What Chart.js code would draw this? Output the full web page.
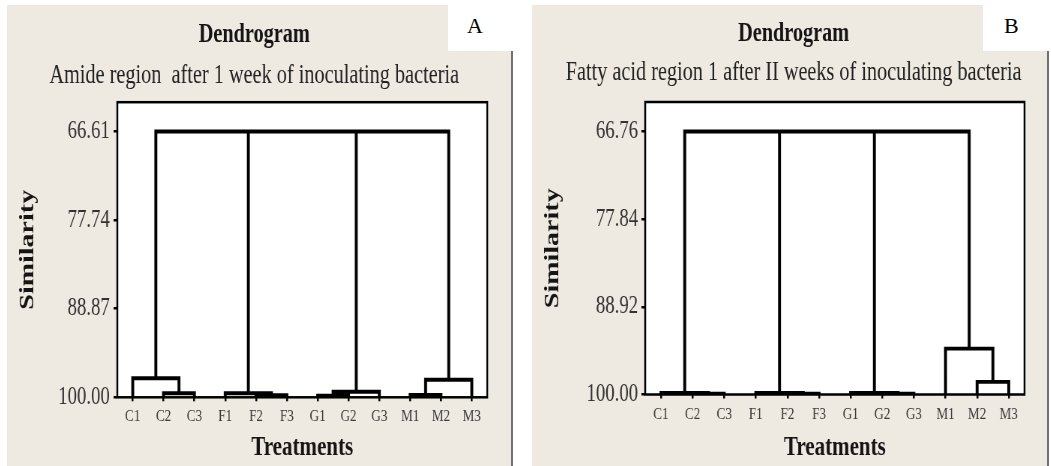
<!DOCTYPE html>
<html>
<head>
<meta charset="utf-8">
<script src="https://cdn.jsdelivr.net/npm/chart.js@4.4.1/dist/chart.umd.min.js"></script>
<style>
  body { margin: 0; width: 1051px; height: 466px; background: #fff; position: relative; overflow: hidden; }
  .panel { position: absolute; top: 5px; height: 461px; }
  .tag { position: absolute; top: 5px; width: 64px; height: 46px; box-sizing: border-box; background: #fff;
         font-family: "Liberation Serif", serif; font-size: 22px; line-height: 42px; color: #000; }
  .edge { position: absolute; top: 51px; width: 2px; height: 415px; background: #707070; }
</style>
</head>
<body>
<div class="panel" style="left:7px"><canvas id="chartA" width="673" height="461" style="width:505px;height:461px"></canvas></div>
<div class="panel" style="left:532px"><canvas id="chartB" width="687" height="461" style="width:515px;height:461px"></canvas></div>
<div class="tag" style="left:448px;padding-left:19px">A</div>
<div class="edge" style="left:511px"></div>
<div class="tag" style="left:983px;padding-left:21px">B</div>
<div class="edge" style="left:1047px"></div>
<script>
// the source figure is squashed sideways, so each canvas is drawn wider
// than it is shown (css width = canvas width * 0.75)

const treatments = ["C1", "C2", "C3", "F1", "F2", "F3", "G1", "G2", "G3", "M1", "M2", "M3"];

// merges: [cluster, cluster, similarity]
// clusters 0-11 are the treatments, 12 and up are the merges in this order
const mergesA = [
  [1, 2, 99.5],    // C2 + C3
  [0, 12, 97.6],   // C1
  [4, 5, 99.75],   // F2 + F3
  [3, 14, 99.5],   // F1
  [6, 7, 99.8],    // G1 + G2
  [16, 8, 99.3],   // G3
  [9, 10, 99.7],   // M1 + M2
  [18, 11, 97.8],  // M3
  [13, 15, 66.61],
  [17, 19, 66.61],
  [20, 21, 66.61],
];
const yTicksA = [66.61, 77.74, 88.87, 100.0];

const mergesB = [
  [1, 2, 99.9],
  [0, 12, 99.8],
  [4, 5, 99.9],
  [3, 14, 99.8],
  [7, 8, 99.9],
  [6, 16, 99.8],
  [10, 11, 98.4],  // M2 + M3
  [9, 18, 94.2],   // M1
  [13, 15, 66.76],
  [17, 19, 66.76],
  [20, 21, 66.76],
];
const yTicksB = [66.76, 77.84, 88.92, 100.0];

const serif = "'Liberation Serif', 'Times New Roman', serif";

// turn the merge list into the usual U shaped links
function dendrogram(merges) {
  const x = treatments.map((_, i) => i + 1);
  const h = treatments.map(() => 100);
  const pts = [];
  for (const [a, b, s] of merges) {
    pts.push({ x: x[a], y: h[a] }, { x: x[a], y: s }, { x: x[b], y: s }, { x: x[b], y: h[b] });
    pts.push({ x: x[b], y: null });
    x.push((x[a] + x[b]) / 2);
    h.push(s);
  }
  return pts;
}

const panelPaint = {
  id: "panelPaint",
  beforeDraw(chart) {
    const { ctx, chartArea: a } = chart;
    ctx.save();
    ctx.fillStyle = "#eeeae1";
    ctx.fillRect(0, 0, chart.width, chart.height);
    ctx.fillStyle = "#fff";
    ctx.fillRect(a.left, a.top, a.right - a.left, a.bottom - a.top);
    ctx.restore();
  },
  afterDatasetsDraw(chart) {
    const { ctx, chartArea: a } = chart;
    ctx.save();
    ctx.strokeStyle = "#000";
    ctx.lineWidth = 2.5;
    ctx.strokeRect(a.left, a.top, a.right - a.left, a.bottom - a.top);
    ctx.restore();
  },
};

function build(id, subtitle, merges, yTicks, L) {
  return new Chart(document.getElementById(id), {
    type: "line",
    data: {
      datasets: [{
        data: dendrogram(merges),
        borderColor: "#000",
        borderWidth: 3.9,
        borderJoinStyle: "miter",
        pointRadius: 0,
        tension: 0,
        spanGaps: false,
      }],
    },
    options: {
      responsive: false,
      animation: false,
      devicePixelRatio: 1,
      layout: { padding: { left: L.padLeft, right: L.padRight, top: 0, bottom: 0 } },
      plugins: {
        legend: { display: false },
        tooltip: { enabled: false },
        title: {
          display: true,
          text: "Dendrogram",
          color: "#151515",
          font: { family: serif, size: 27, weight: "bold", lineHeight: 1.2 },
          padding: L.titlePad,
        },
        subtitle: {
          display: true,
          text: subtitle,
          color: "#222",
          font: { family: serif, size: 27, weight: "normal", lineHeight: 1.2 },
          padding: L.subPad,
        },
      },
      scales: {
        x: {
          type: "linear",
          min: 0.5,
          max: 12.5,
          bounds: "data",
          afterBuildTicks: (s) => {
            s.ticks = treatments.map((_, i) => ({ value: i + 1 }));
          },
          afterFit: (s) => {
            s.height = L.xAxisHeight;
          },
          ticks: {
            autoSkip: false,
            maxRotation: 0,
            padding: 5,
            color: "#3c3c3c",
            font: { family: serif, size: 17.5 },
            callback: (v) => treatments[v - 1],
          },
          grid: { drawOnChartArea: false, drawTicks: true, tickLength: 4, color: "#000", lineWidth: 2.5 },
          border: { display: false },
          title: {
            display: true,
            text: "Treatments",
            color: "#151515",
            font: { family: serif, size: 28, weight: "bold", lineHeight: 1.2 },
            padding: { top: 0, bottom: 1 },
          },
        },
        y: {
          type: "linear",
          reverse: true,
          min: L.yMin,
          max: 100,
          afterBuildTicks: (s) => {
            s.ticks = yTicks.map((v) => ({ value: v }));
          },
          afterFit: (s) => {
            s.width = L.yAxisWidth;
          },
          ticks: {
            padding: L.yTickPad,
            color: "#333",
            font: { family: serif, size: 25 },
            callback: (v) => v.toFixed(2),
          },
          grid: { drawOnChartArea: false, drawTicks: true, tickLength: 5, color: "#000", lineWidth: 2.5 },
          border: { display: false },
          title: {
            display: true,
            text: "Similarity",
            color: "#151515",
            font: { family: serif, size: 28, weight: "bold", lineHeight: 1.2 },
            padding: { top: L.yTitlePad, bottom: 0 },
          },
        },
      },
    },
    plugins: [panelPaint],
  });
}

build("chartA", "Amide region  after 1 week of inoculating bacteria", mergesA, yTicksA, {
  padLeft: 19, padRight: 33, yAxisWidth: 128, xAxisHeight: 68.7, yMin: 62.92,
  titlePad: { top: 14.3, bottom: 0 }, subPad: { top: 8.1, bottom: 10 },
  yTickPad: 5, yTitlePad: -7.8,
});

build("chartB", "Fatty acid region 1 after II weeks of inoculating bacteria", mergesB, yTicksB, {
  padLeft: 41, padRight: 30, yAxisWidth: 110, xAxisHeight: 71.5, yMin: 63.03,
  titlePad: { top: 12.8, bottom: 0 }, subPad: { top: 6.4, bottom: 13 },
  yTickPad: 4.5, yTitlePad: -29.8,
});
</script>
</body>
</html>
